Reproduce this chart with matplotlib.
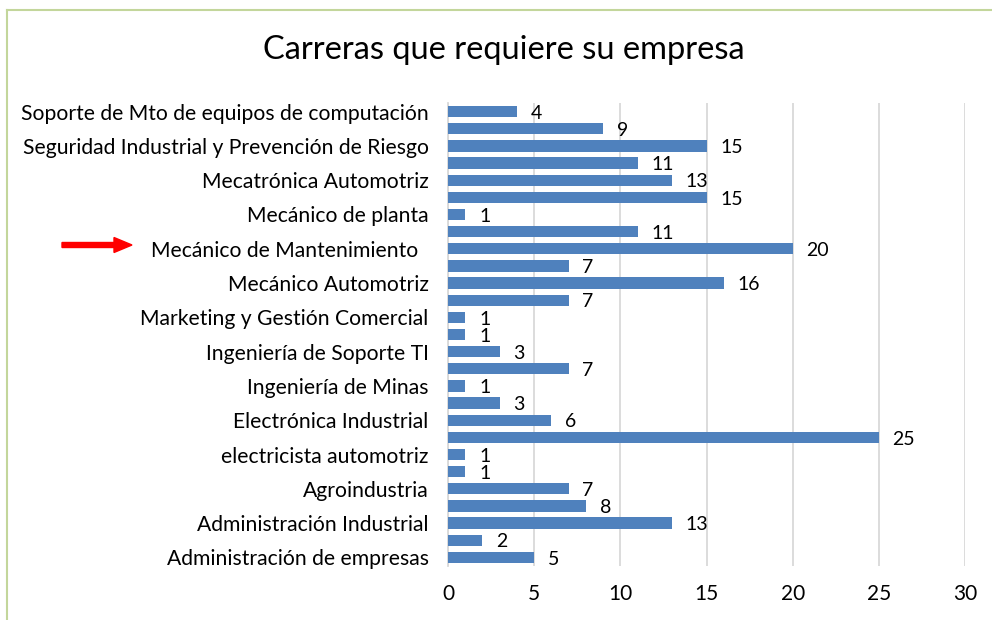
import matplotlib
matplotlib.use("Agg")
import matplotlib.pyplot as plt
from matplotlib.lines import Line2D
from matplotlib.patches import FancyArrow

plt.rcParams['font.family'] = ['Lato', 'DejaVu Sans']

# bottom to top
values = [5, 2, 13, 8, 7, 1, 1, 25, 6, 3, 1, 7, 3, 1, 1, 7, 16, 7, 20, 11, 1, 15, 13, 11, 15, 9, 4]
labels = ["Administración de empresas", "", "Administración Industrial", "", "Agroindustria", "",
          "electricista automotriz", "", "Electrónica Industrial", "", "Ingeniería de Minas", "",
          "Ingeniería de Soporte TI", "", "Marketing y Gestión Comercial", "", "Mecánico Automotriz", "",
          "Mecánico de Mantenimiento  ", "", "Mecánico de planta", "", "Mecatrónica Automotriz", "",
          "Seguridad Industrial y Prevención de Riesgo", "", "Soporte de Mto de equipos de computación"]
xticks = [0, 5, 10, 15, 20, 25, 30]
title = "Carreras que requiere su empresa"

W, H = 992, 620
fig = plt.figure(figsize=(W / 100, H / 100), dpi=100)
ax = fig.add_axes([448 / W, 1 - 566 / H, 517 / W, 463 / H])

pos = list(range(len(values)))
ax.barh(pos, values, height=0.66, color='#4f81bd', zorder=3)
for p, v in zip(pos, values):
    ax.text(v + 0.8, p - 0.1, str(v), va='center', ha='left', fontsize=14, color='#000000')

ax.set_xlim(0, 30)
ax.set_ylim(-0.5, len(values) - 0.5)
ax.set_xticks(xticks)
ax.set_xticklabels([str(x) for x in xticks], fontsize=15)
ax.set_yticks(pos)
ax.set_yticklabels(labels, fontsize=15.2)
ax.tick_params(axis='both', length=0)
ax.tick_params(axis='x', pad=13)
ax.tick_params(axis='y', pad=14)
ax.grid(axis='x', color='#d9d9d9', linewidth=1.3, zorder=0)
for s in ['top', 'right', 'bottom']:
    ax.spines[s].set_visible(False)
ax.spines['left'].set_color('#d9d9d9')
ax.spines['left'].set_linewidth(1.3)

fig.text(504 / W, 1 - 50 / H, title, ha='center', va='center', fontsize=23.5)

# red arrow
fig.add_artist(FancyArrow(62 / W, 1 - 245 / H, 52 / W, 0, width=5 / H,
                          head_width=15 / H, head_length=18 / W,
                          length_includes_head=False, color='#ff0000',
                          transform=fig.transFigure))

# green border (top and left)
fig.add_artist(Line2D([7 / W, 1], [1 - 10 / H, 1 - 10 / H], color='#c3d69b', lw=1.5, transform=fig.transFigure))
fig.add_artist(Line2D([7 / W, 7 / W], [0, 1 - 10 / H], color='#c3d69b', lw=1.5, transform=fig.transFigure))

fig.savefig("out.png", dpi=100)
